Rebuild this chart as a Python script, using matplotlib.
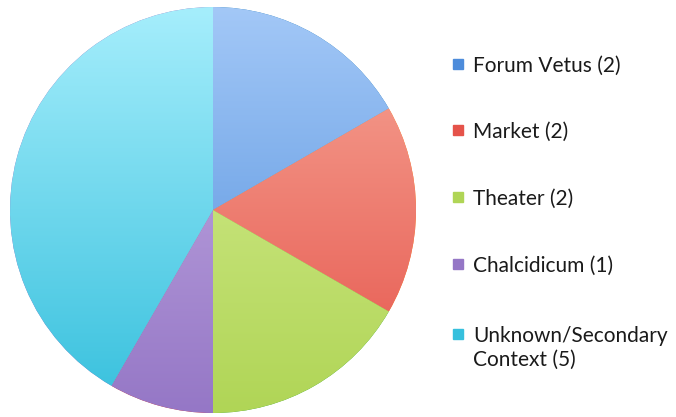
import numpy as np
import matplotlib.pyplot as plt
from matplotlib.colors import to_rgb
from matplotlib.patches import Rectangle

labels = ['Forum Vetus (2)', 'Market (2)', 'Theater (2)', 'Chalcidicum (1)',
          'Unknown/Secondary\nContext (5)']
counts = [2, 2, 2, 1, 5]
# top / bottom shade of each slice
light = ['#a3c8f7', '#f7a898', '#d9ef98', '#c9b2e6', '#a6eefc']
dark = ['#4d8cdb', '#e5534a', '#b0d556', '#9577c6', '#36c0dd']

fig = plt.figure(figsize=(6.76, 4.17), dpi=100)
ax = fig.add_axes([10 / 676, 4 / 417, 406 / 676, 406 / 417])
wedges, _ = ax.pie(counts, startangle=90, counterclock=False, radius=1,
                   wedgeprops=dict(linewidth=0))
ax.set_xlim(-1, 1)
ax.set_ylim(-1, 1)
ax.set_aspect('equal')
ax.axis('off')

# vertical shading, clipped to each wedge
t = np.linspace(0, 1, 256)[:, None]
for w, c0, c1 in zip(wedges, light, dark):
    a, b = np.array(to_rgb(c0)), np.array(to_rgb(c1))
    img = (a * (1 - t) + b * t)[:, None, :]
    im = ax.imshow(img, extent=[-1, 1, -1, 1], origin='upper',
                   aspect='auto', zorder=2, interpolation='bilinear')
    im.set_clip_path(w)

# legend entries
W, H = 676, 417
ys = [65, 131, 198, 265, 335]
for lab, col, y in zip(labels, dark, ys):
    fig.patches.append(Rectangle((453 / W, 1 - (y + 4) / H), 10 / W, 10 / H,
                                 transform=fig.transFigure, color=col,
                                 figure=fig))
    fig.text(473 / W, 1 - (y - 9) / H, lab, fontsize=15, family='Lato',
             color='#1a1a1a', va='top', ha='left', linespacing=1.25)

fig.savefig('out.png', dpi=100)
